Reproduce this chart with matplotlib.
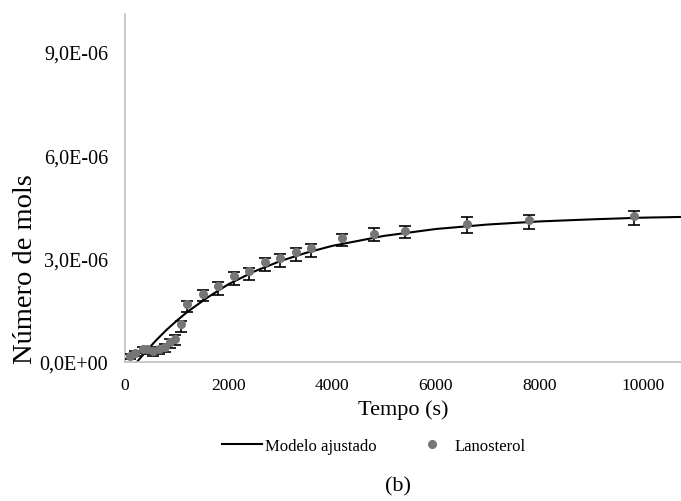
import matplotlib
matplotlib.use("Agg")
import matplotlib.pyplot as plt
from matplotlib.lines import Line2D

plt.rcParams["font.family"] = ["Liberation Serif", "DejaVu Serif"]

# Lanosterol measurements (time in s, moles)
tempo = [100, 200, 350, 430, 540, 660, 770, 870, 960, 1080, 1200, 1500, 1800,
         2100, 2400, 2700, 3000, 3300, 3600, 4200, 4800, 5400, 6600, 7800, 9840]
mols = [0.18e-6, 0.26e-6, 0.38e-6, 0.38e-6, 0.32e-6, 0.38e-6, 0.43e-6, 0.57e-6,
        0.67e-6, 1.10e-6, 1.68e-6, 1.97e-6, 2.20e-6, 2.49e-6, 2.63e-6, 2.89e-6,
        3.01e-6, 3.18e-6, 3.30e-6, 3.59e-6, 3.73e-6, 3.79e-6, 4.02e-6, 4.11e-6,
        4.25e-6]
err_lo = [0.08e-6, 0.10e-6, 0.12e-6, 0.14e-6, 0.15e-6, 0.15e-6, 0.15e-6, 0.15e-6,
          0.18e-6, 0.22e-6, 0.24e-6, 0.20e-6, 0.25e-6, 0.25e-6, 0.25e-6, 0.25e-6,
          0.25e-6, 0.25e-6, 0.25e-6, 0.22e-6, 0.22e-6, 0.20e-6, 0.27e-6, 0.26e-6,
          0.26e-6]
err_hi = [0.05e-6, 0.05e-6, 0.05e-6, 0.05e-6, 0.05e-6, 0.05e-6, 0.08e-6, 0.10e-6,
          0.10e-6, 0.10e-6, 0.10e-6, 0.12e-6, 0.12e-6, 0.12e-6, 0.10e-6, 0.12e-6,
          0.12e-6, 0.12e-6, 0.12e-6, 0.12e-6, 0.15e-6, 0.15e-6, 0.18e-6, 0.15e-6,
          0.13e-6]

# fitted model curve
modelo_t = [230, 400, 600, 800, 1000, 1200, 1600, 2000, 2500, 3000, 3500, 4000,
            5000, 6000, 7000, 8000, 9000, 10000, 10740]
modelo_v = [0.0, 0.30e-6, 0.63e-6, 0.93e-6, 1.20e-6, 1.45e-6, 1.88e-6, 2.26e-6,
            2.63e-6, 2.93e-6, 3.17e-6, 3.37e-6, 3.66e-6, 3.86e-6, 3.99e-6,
            4.08e-6, 4.14e-6, 4.19e-6, 4.21e-6]

yticks = [0, 3e-6, 6e-6, 9e-6]
ytick_labels = ["0,0E+00", "3,0E-06", "6,0E-06", "9,0E-06"]
xticks = [0, 2000, 4000, 6000, 8000, 10000]

fig = plt.figure(figsize=(6.81, 5.02), dpi=100)
ax = fig.add_axes([0.1836, 0.2769, 0.8164, 0.6931])

ax.plot(modelo_t, modelo_v, color="black", linewidth=1.5, zorder=2)
ax.errorbar(tempo, mols, yerr=[err_lo, err_hi], fmt="o", color="#767676",
            markersize=5.5, ecolor="black", elinewidth=1.2, capsize=4,
            capthick=1.2, zorder=3)

ax.set_xlim(0, 10740)
ax.set_ylim(0, 1.01e-5)
ax.set_xticks(xticks)
ax.set_xticklabels([str(x) for x in xticks])
ax.set_yticks(yticks)
ax.set_yticklabels(ytick_labels)
ax.tick_params(length=0)
ax.tick_params(axis="x", pad=11, labelsize=12.5)
ax.tick_params(axis="y", pad=12, labelsize=14.5)

for s in ["top", "right"]:
    ax.spines[s].set_visible(False)
for s in ["left", "bottom"]:
    ax.spines[s].set_color("#bfbfbf")
    ax.spines[s].set_linewidth(1.2)

ax.set_xlabel("Tempo (s)", fontsize=16, labelpad=4)
ax.set_ylabel("Número de mols", fontsize=20.5)
ax.yaxis.set_label_coords(-0.157, 0.27)

handles = [
    Line2D([0], [0], color="black", linewidth=1.5),
    Line2D([0], [0], linestyle="none", marker="o", color="#767676", markersize=5.5),
]
fig.legend(handles, ["Modelo ajustado", "Lanosterol"], loc="center",
           bbox_to_anchor=(0.549, 0.11), ncol=2, frameon=False, fontsize=12,
           handlelength=2.4, handletextpad=0.2, columnspacing=2.1)

fig.text(0.585, 0.03, "(b)", ha="center", va="center", fontsize=16)

plt.savefig("out.png", dpi=100)
plt.close()
